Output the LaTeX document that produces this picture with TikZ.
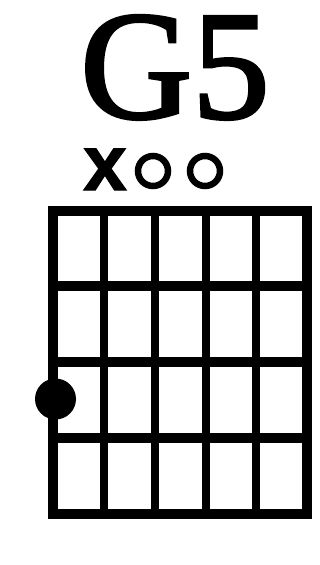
\documentclass[tikz,border=0pt]{standalone}
\usepackage{fontspec}
\setmainfont{Liberation Serif}
\newfontfamily\titlefont[FakeBold=2]{Liberation Serif}
\newfontfamily\markfont[FakeBold=1.5]{Liberation Sans Bold}
\begin{document}
\begin{tikzpicture}[x=1pt,y=-1pt,
  gridline/.style={line width=8.5pt},
  fretline/.style={line width=9.5pt},
  openstr/.style={circle, draw, line width=6.5pt, minimum size=30pt, inner sep=0pt},
  fingerdot/.style={circle, fill, minimum size=41pt, inner sep=0pt},
  mutemark/.style={inner sep=0pt, anchor=base, text height=41pt, text depth=0pt, font=\markfont\fontsize{78}{78}\selectfont}]
\useasboundingbox (0,0) rectangle (320,565);
\fill[white] (0,0) rectangle (320,565);
\node[anchor=base, inner sep=0pt, text height=105pt, text depth=0pt, font=\titlefont\fontsize{155}{155}\selectfont] (title) at (175,118) {G5};
\node[mutemark] (mute) at (105,190) {x};
\node[openstr] (open4) at (153,171) {};
\node[openstr] (open3) at (205,171) {};
\foreach \x in {104,155,206,256} \draw[gridline] (\x,211) -- (\x,514);
\foreach \y in {286,362,438} \draw[fretline] (53,\y) -- (307,\y);
\draw[line width=10pt] (53,211) rectangle (307,514);
\node[fingerdot] (finger) at (55.5,399) {};
\end{tikzpicture}
\end{document}
